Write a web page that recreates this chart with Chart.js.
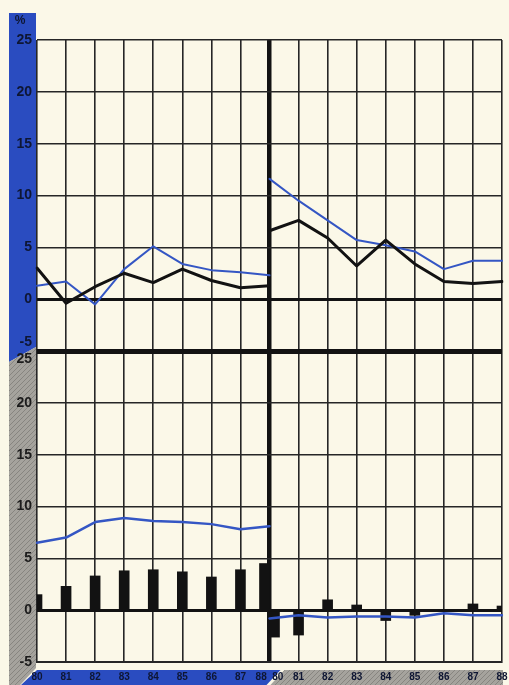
<!DOCTYPE html>
<html>
<head>
<meta charset="utf-8">
<script src="https://cdn.jsdelivr.net/npm/chart.js@4.4.1/dist/chart.umd.min.js"></script>
<style>
  html, body { margin: 0; padding: 0; background: #fbf8e8; }
  #wrap { width: 509px; height: 685px; position: relative; }
</style>
</head>
<body>
<div id="wrap"><canvas id="chart"></canvas></div>
<script>
// years along the bottom (left half and right half both run 80..88)
var years = ['80', '81', '82', '83', '84', '85', '86', '87', '88'];

// upper panel, %
var topLeftBlack = [3.0, -0.4, 1.2, 2.5, 1.6, 2.9, 1.8, 1.1, 1.3];
var topLeftBlue = [1.3, 1.7, -0.5, 2.9, 5.1, 3.4, 2.8, 2.6, 2.3];
var topRightBlack = [6.6, 7.6, 5.9, 3.2, 5.7, 3.4, 1.7, 1.5, 1.7];
var topRightBlue = [11.6, 9.5, 7.6, 5.7, 5.2, 4.6, 2.9, 3.7, 3.7];

// lower panel, %
var bottomLeftBlue = [6.5, 7.0, 8.5, 8.9, 8.6, 8.5, 8.3, 7.8, 8.1];
var bottomLeftBars = [1.5, 2.3, 3.3, 3.8, 3.9, 3.7, 3.2, 3.9, 4.5];
var bottomRightBlue = [-0.8, -0.5, -0.7, -0.6, -0.6, -0.7, -0.3, -0.5, -0.5];
var bottomRightBars = [-2.6, -2.4, 1.0, 0.5, -1.0, -0.5, 0, 0.6, 0.4];

var CREAM = '#fbf8e8';
var BAND_BLUE = '#2a4cc0';
var LINE_BLUE = '#3456c4';
var INK = '#121212';
var NAVY = '#0e1633';
var GRID = '#262626';

// both halves share the middle position (index 8)
var xLabels = years.slice(0, 8).concat([years[8] + '  ' + years[0]], years.slice(1));
var gap = [null, null, null, null, null, null, null, null];
function leftHalf(v) { return v.concat(gap); }
function rightHalf(v) { return gap.concat(v); }

function hatch() {
  var c = document.createElement('canvas');
  c.width = 5; c.height = 5;
  var g = c.getContext('2d');
  g.fillStyle = '#a5a39d';
  g.fillRect(0, 0, 5, 5);
  g.strokeStyle = '#878580';
  g.lineWidth = 1;
  g.beginPath();
  g.moveTo(-1, 1); g.lineTo(1, -1);
  g.moveTo(0, 5); g.lineTo(5, 0);
  g.moveTo(4, 6); g.lineTo(6, 4);
  g.stroke();
  return g.createPattern(c, 'repeat');
}

function poly(ctx, pts, fill) {
  ctx.beginPath();
  ctx.moveTo(pts[0][0], pts[0][1]);
  for (var i = 1; i < pts.length; i++) ctx.lineTo(pts[i][0], pts[i][1]);
  ctx.closePath();
  ctx.fillStyle = fill;
  ctx.fill();
}

var bandsPlugin = {
  id: 'bands',
  beforeDraw: function(chart) {
    var ctx = chart.ctx;
    var a = chart.chartArea;
    var mid = chart.scales.yTop.bottom;
    var xm = chart.scales.x.getPixelForValue(8);
    var h = chart.height;
    var pat = hatch();
    ctx.save();
    ctx.fillStyle = CREAM;
    ctx.fillRect(0, 0, chart.width, h);
    // left value band
    poly(ctx, [[9, 13], [a.left - 1, 13], [a.left - 1, mid - 4], [9, mid + 11]], BAND_BLUE);
    poly(ctx, [[9, mid + 11], [a.left - 1, mid - 4], [a.left - 1, a.bottom + 6], [20, h], [9, h]], pat);
    // bottom year band
    poly(ctx, [[a.left, a.bottom + 8], [xm + 11, a.bottom + 8], [xm - 3, h], [21, h]], BAND_BLUE);
    poly(ctx, [[xm + 15, a.bottom + 8], [a.right + 1, a.bottom + 8], [a.right + 1, h], [xm + 1, h]], pat);
    ctx.restore();
  },
  afterDraw: function(chart) {
    var ctx = chart.ctx;
    ctx.save();
    ctx.fillStyle = NAVY;
    ctx.font = 'bold 12px "Liberation Sans", Arial, sans-serif';
    ctx.textAlign = 'center';
    ctx.textBaseline = 'middle';
    ctx.fillText('%', 20, 21);
    ctx.restore();
  }
};

function isHeavy(c, thick) {
  var v = c.tick ? c.tick.value : null;
  return v === 0 || v === thick;
}
function gridWidth(thick) {
  return function(c) {
    var v = c.tick ? c.tick.value : null;
    if (v === 0) return 3;
    if (v === thick) return 5;
    return 1.6;
  };
}
function gridColor(thick) {
  return function(c) { return isHeavy(c, thick) ? INK : GRID; };
}

var tickFont = { family: '"Liberation Sans", Arial, sans-serif', size: 14, weight: 'bold' };

var ctx = document.getElementById('chart').getContext('2d');
var chart = new Chart(ctx, {
  type: 'line',
  data: {
    labels: xLabels,
    datasets: [
      { data: leftHalf(topLeftBlack), yAxisID: 'yTop', borderColor: INK, borderWidth: 3 },
      { data: leftHalf(topLeftBlue), yAxisID: 'yTop', borderColor: LINE_BLUE, borderWidth: 2 },
      { data: rightHalf(topRightBlack), yAxisID: 'yTop', borderColor: INK, borderWidth: 3 },
      { data: rightHalf(topRightBlue), yAxisID: 'yTop', borderColor: LINE_BLUE, borderWidth: 2 },
      { data: leftHalf(bottomLeftBlue), yAxisID: 'yBot', borderColor: LINE_BLUE, borderWidth: 2.5 },
      { data: rightHalf(bottomRightBlue), yAxisID: 'yBot', borderColor: LINE_BLUE, borderWidth: 2.5 },
      { type: 'bar', data: leftHalf(bottomLeftBars), yAxisID: 'yBot', backgroundColor: INK, barThickness: 10, skipNull: true },
      { type: 'bar', data: rightHalf(bottomRightBars), yAxisID: 'yBot', backgroundColor: INK, barThickness: 10, skipNull: true }
    ]
  },
  options: {
    responsive: true,
    maintainAspectRatio: false,
    animation: false,
    layout: { padding: { top: 40, right: 7, bottom: 0, left: 0 } },
    elements: {
      point: { radius: 0, hoverRadius: 0 },
      line: { tension: 0, borderCapStyle: 'round', borderJoinStyle: 'round' }
    },
    plugins: {
      legend: { display: false },
      tooltip: { enabled: false },
      title: { display: false }
    },
    scales: {
      x: {
        type: 'category',
        offset: false,
        afterFit: function(s) { s.height = 23; s.paddingLeft = 0; s.paddingRight = 0; },
        grid: {
          offset: false,
          drawTicks: false,
          color: function(c) { return c.index === 8 ? INK : GRID; },
          lineWidth: function(c) { return c.index === 8 ? 4.5 : 1.6; }
        },
        border: { display: true, color: GRID, width: 2 },
        ticks: {
          autoSkip: false,
          maxRotation: 0,
          padding: 9,
          color: NAVY,
          font: { family: '"Liberation Sans", Arial, sans-serif', size: 10, weight: 'bold' }
        }
      },
      yBot: {
        type: 'linear',
        position: 'left',
        stack: 'panels',
        stackWeight: 1,
        min: -5,
        max: 25,
        afterFit: function(s) { s.width = 37; s.paddingTop = 0; s.paddingBottom = 0; },
        grid: { drawTicks: false, color: gridColor(25), lineWidth: gridWidth(25) },
        border: { display: false },
        ticks: {
          stepSize: 5,
          autoSkip: false,
          padding: 5,
          color: '#1b1b1b',
          font: tickFont,
          callback: function(v) { return v === 25 ? ['', '25'] : String(v); }
        }
      },
      yTop: {
        type: 'linear',
        position: 'left',
        stack: 'panels',
        stackWeight: 1,
        min: -5,
        max: 25,
        afterFit: function(s) { s.width = 37; s.paddingTop = 0; s.paddingBottom = 0; },
        grid: { drawTicks: false, color: gridColor(-5), lineWidth: gridWidth(-5) },
        border: { display: false },
        ticks: {
          stepSize: 5,
          autoSkip: false,
          padding: 5,
          color: NAVY,
          font: tickFont,
          callback: function(v) { return v === -5 ? ['-5', ''] : String(v); }
        }
      }
    }
  },
  plugins: [bandsPlugin]
});
</script>
</body>
</html>
